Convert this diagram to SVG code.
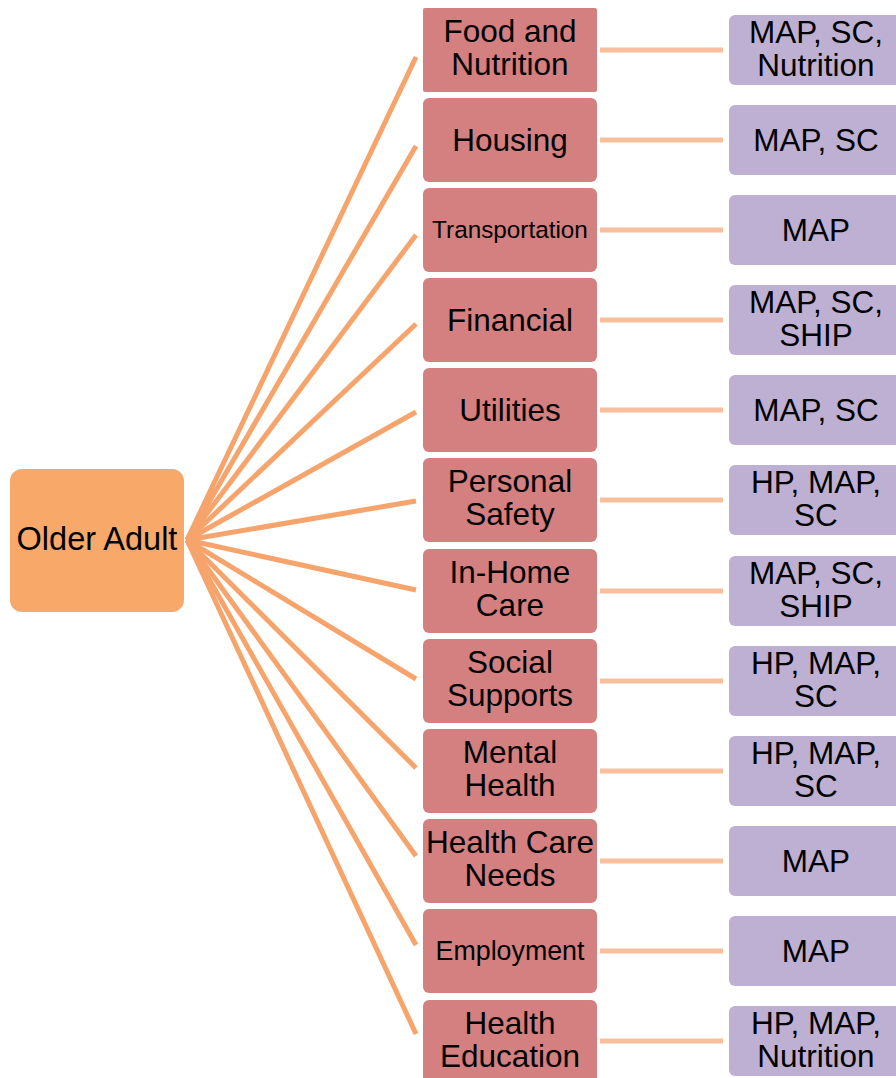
<svg xmlns="http://www.w3.org/2000/svg" width="896" height="1078" viewBox="0 0 896 1078">
<style>
.cat{fill:#D48080}
.res{fill:#BEB0D3}
.root{fill:#F8A96A}
.fan{stroke:#F6A46B;stroke-width:5;fill:none}
.hl{stroke:#F9BE9B;stroke-width:5;fill:none}
text{font-family:"Liberation Sans",Arial,sans-serif;font-size:31.5px;fill:#000;text-anchor:middle}
.sm{font-size:24.3px}
.md{font-size:26.8px}
.rt{font-size:32.5px}
</style>
<rect width="896" height="1078" fill="#fff"/>
<g id="connectors">
<line class="fan" x1="187" y1="540" x2="416" y2="57"/>
<line class="fan" x1="187" y1="540" x2="416" y2="146"/>
<line class="fan" x1="187" y1="540" x2="416" y2="235"/>
<line class="fan" x1="187" y1="540" x2="416" y2="324"/>
<line class="fan" x1="187" y1="540" x2="416" y2="412"/>
<line class="fan" x1="187" y1="540" x2="416" y2="501"/>
<line class="fan" x1="187" y1="540" x2="416" y2="590"/>
<line class="fan" x1="187" y1="540" x2="416" y2="679"/>
<line class="fan" x1="187" y1="540" x2="416" y2="768"/>
<line class="fan" x1="187" y1="540" x2="416" y2="856"/>
<line class="fan" x1="187" y1="540" x2="416" y2="945"/>
<line class="fan" x1="187" y1="540" x2="416" y2="1034"/>
<line class="hl" x1="600" y1="50" x2="723" y2="50"/>
<line class="hl" x1="600" y1="140" x2="723" y2="140"/>
<line class="hl" x1="600" y1="230" x2="723" y2="230"/>
<line class="hl" x1="600" y1="320" x2="723" y2="320"/>
<line class="hl" x1="600" y1="410" x2="723" y2="410"/>
<line class="hl" x1="600" y1="500" x2="723" y2="500"/>
<line class="hl" x1="600" y1="591" x2="723" y2="591"/>
<line class="hl" x1="600" y1="681" x2="723" y2="681"/>
<line class="hl" x1="600" y1="771" x2="723" y2="771"/>
<line class="hl" x1="600" y1="861" x2="723" y2="861"/>
<line class="hl" x1="600" y1="951" x2="723" y2="951"/>
<line class="hl" x1="600" y1="1041" x2="723" y2="1041"/>
</g>
<g id="root"><rect class="root" x="10" y="469" width="174" height="143" rx="12"/><text class="rt" x="97" y="550">Older Adult</text></g>
<g id="cat1"><rect class="cat" x="423" y="8" width="174" height="84" rx="2"/><text x="510" y="42">Food and</text><text x="510" y="75">Nutrition</text></g>
<g id="cat2"><rect class="cat" x="423" y="98" width="174" height="84" rx="6"/><text x="510" y="151">Housing</text></g>
<g id="cat3"><rect class="cat" x="423" y="188" width="174" height="84" rx="6"/><text class="sm" x="510" y="238">Transportation</text></g>
<g id="cat4"><rect class="cat" x="423" y="278" width="174" height="84" rx="6"/><text x="510" y="331">Financial</text></g>
<g id="cat5"><rect class="cat" x="423" y="368" width="174" height="84" rx="6"/><text x="510" y="421">Utilities</text></g>
<g id="cat6"><rect class="cat" x="423" y="458" width="174" height="84" rx="6"/><text x="510" y="492">Personal</text><text x="510" y="525">Safety</text></g>
<g id="cat7"><rect class="cat" x="423" y="549" width="174" height="84" rx="6"/><text x="510" y="583">In-Home</text><text x="510" y="616">Care</text></g>
<g id="cat8"><rect class="cat" x="423" y="639" width="174" height="84" rx="6"/><text x="510" y="673">Social</text><text x="510" y="706">Supports</text></g>
<g id="cat9"><rect class="cat" x="423" y="729" width="174" height="84" rx="6"/><text x="510" y="763">Mental</text><text x="510" y="796">Health</text></g>
<g id="cat10"><rect class="cat" x="423" y="819" width="174" height="84" rx="6"/><text x="510" y="853">Health Care</text><text x="510" y="886">Needs</text></g>
<g id="cat11"><rect class="cat" x="423" y="909" width="174" height="84" rx="6"/><text class="md" x="510" y="960">Employment</text></g>
<g id="cat12"><rect class="cat" x="423" y="1000" width="174" height="84" rx="6"/><text x="510" y="1034">Health</text><text x="510" y="1067">Education</text></g>
<g id="res1"><rect class="res" x="729" y="15" width="174" height="70" rx="6"/><text x="816" y="43">MAP, SC,</text><text x="816" y="76">Nutrition</text></g>
<g id="res2"><rect class="res" x="729" y="105" width="174" height="70" rx="6"/><text x="816" y="151">MAP, SC</text></g>
<g id="res3"><rect class="res" x="729" y="195" width="174" height="70" rx="6"/><text x="816" y="241">MAP</text></g>
<g id="res4"><rect class="res" x="729" y="285" width="174" height="70" rx="6"/><text x="816" y="313">MAP, SC,</text><text x="816" y="346">SHIP</text></g>
<g id="res5"><rect class="res" x="729" y="375" width="174" height="70" rx="6"/><text x="816" y="421">MAP, SC</text></g>
<g id="res6"><rect class="res" x="729" y="465" width="174" height="70" rx="6"/><text x="816" y="493">HP, MAP,</text><text x="816" y="526">SC</text></g>
<g id="res7"><rect class="res" x="729" y="556" width="174" height="70" rx="6"/><text x="816" y="584">MAP, SC,</text><text x="816" y="617">SHIP</text></g>
<g id="res8"><rect class="res" x="729" y="646" width="174" height="70" rx="6"/><text x="816" y="674">HP, MAP,</text><text x="816" y="707">SC</text></g>
<g id="res9"><rect class="res" x="729" y="736" width="174" height="70" rx="6"/><text x="816" y="764">HP, MAP,</text><text x="816" y="797">SC</text></g>
<g id="res10"><rect class="res" x="729" y="826" width="174" height="70" rx="6"/><text x="816" y="872">MAP</text></g>
<g id="res11"><rect class="res" x="729" y="916" width="174" height="70" rx="6"/><text x="816" y="962">MAP</text></g>
<g id="res12"><rect class="res" x="729" y="1006" width="174" height="70" rx="6"/><text x="816" y="1034">HP, MAP,</text><text x="816" y="1067">Nutrition</text></g>
</svg>
